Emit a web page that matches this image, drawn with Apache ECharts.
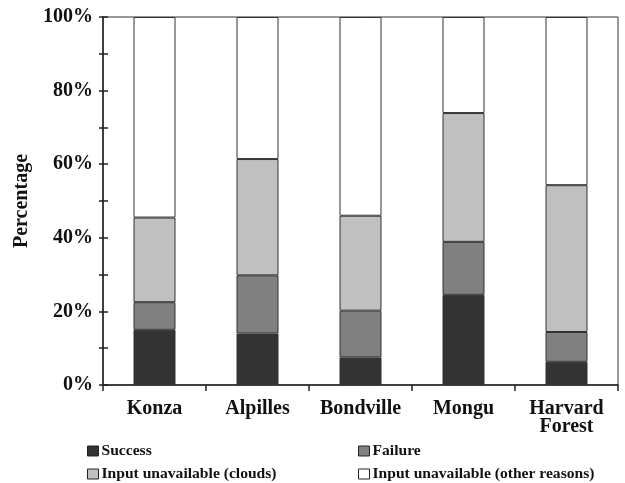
<!DOCTYPE html>
<html>
<head>
<meta charset="utf-8">
<script src="https://cdn.jsdelivr.net/npm/echarts@6/dist/echarts.min.js"></script>
<style>
  html, body { margin: 0; padding: 0; background: #fff; }
  #chart { width: 625px; height: 483px; }
</style>
</head>
<body>
<div id="chart"></div>
<script>
// Sites and the share of each outcome (percent of all attempts)
const sites = ['Konza', 'Alpilles', 'Bondville', 'Mongu', 'Harvard\nForest'];
const success = [15, 14, 7.5, 24.5, 6.3];
const failure = [7.5, 15.8, 12.7, 14.4, 8.1];
const clouds = [23, 31.6, 25.8, 35, 39.9];
const otherReasons = [54.5, 38.6, 54, 26.1, 45.7];
const seriesNames = ['Success', 'Failure', 'Input unavailable (clouds)', 'Input unavailable (other reasons)'];
const yTicks = [0, 20, 40, 60, 80, 100];

const FONT = '"Liberation Serif", "Times New Roman", serif';
const fills = ['#333333', '#808080', '#c0c0c0', '#ffffff'];
const values = [success, failure, clouds, otherReasons];

// legend slots: two columns, two rows
const legendSlots = [
  { left: 87, top: 443 },   // Success
  { left: 358, top: 443 },  // Failure
  { left: 87, top: 466 },   // clouds
  { left: 358, top: 466 }   // other reasons
];

const chart = echarts.init(document.getElementById('chart'), null, { renderer: 'canvas' });

const series = seriesNames.map((name, i) => ({
  name: name,
  type: 'bar',
  stack: 'total',
  barWidth: 42,
  data: values[i],
  itemStyle: { color: fills[i], borderColor: '#333', borderWidth: 1 },
  emphasis: { disabled: true }
}));

const legends = seriesNames.map((name, i) => ({
  data: [name],
  left: legendSlots[i].left,
  top: legendSlots[i].top,
  padding: 0,
  icon: 'rect',
  itemWidth: 11,
  itemHeight: 10,
  itemGap: 0,
  itemStyle: { borderColor: '#222', borderWidth: 1 },
  textStyle: { fontFamily: FONT, fontWeight: 'bold', fontSize: 15.6, color: '#111', padding: [0, 0, 0, -2] },
  selectedMode: false
}));

chart.setOption({
  animation: false,
  backgroundColor: '#fff',
  grid: {
    left: 103, right: 7, top: 17, bottom: 98,
    show: true, borderColor: '#333', borderWidth: 1, backgroundColor: 'transparent'
  },
  legend: legends,
  xAxis: {
    type: 'category',
    data: sites,
    axisLine: { lineStyle: { color: '#222', width: 1.5 } },
    axisTick: { show: true, length: 6, lineStyle: { color: '#222', width: 1.5 } },
    axisLabel: {
      fontFamily: FONT, fontWeight: 'bold', fontSize: 20, color: '#111',
      lineHeight: 18, margin: 14.5, interval: 0
    }
  },
  yAxis: [
    {
      type: 'value',
      min: yTicks[0], max: yTicks[yTicks.length - 1], interval: 20,
      name: 'Percentage',
      nameLocation: 'middle',
      nameGap: 68,
      nameRotate: 90,
      nameTextStyle: { fontFamily: FONT, fontWeight: 'bold', fontSize: 20, color: '#111' },
      axisLine: { show: true, lineStyle: { color: '#222', width: 1.5 } },
      axisTick: { show: true, length: 4, lineStyle: { color: '#222', width: 1.5 } },
      minorTick: { show: true, splitNumber: 2, length: 4, lineStyle: { color: '#222', width: 1.5 } },
      splitLine: { show: false },
      axisLabel: {
        fontFamily: FONT, fontWeight: 'bold', fontSize: 20, color: '#111', margin: 10,
        formatter: '{value}%'
      }
    },
    {
      // second copy of the axis only to draw the inward half of each tick
      type: 'value',
      position: 'left',
      min: yTicks[0], max: yTicks[yTicks.length - 1], interval: 20,
      axisLine: { show: false },
      axisTick: { show: true, inside: true, length: 5, lineStyle: { color: '#222', width: 1.5 } },
      minorTick: { show: true, splitNumber: 2, length: 5, lineStyle: { color: '#222', width: 1.5 } },
      splitLine: { show: false },
      axisLabel: { show: false }
    }
  ],
  series: series
});
</script>
</body>
</html>
